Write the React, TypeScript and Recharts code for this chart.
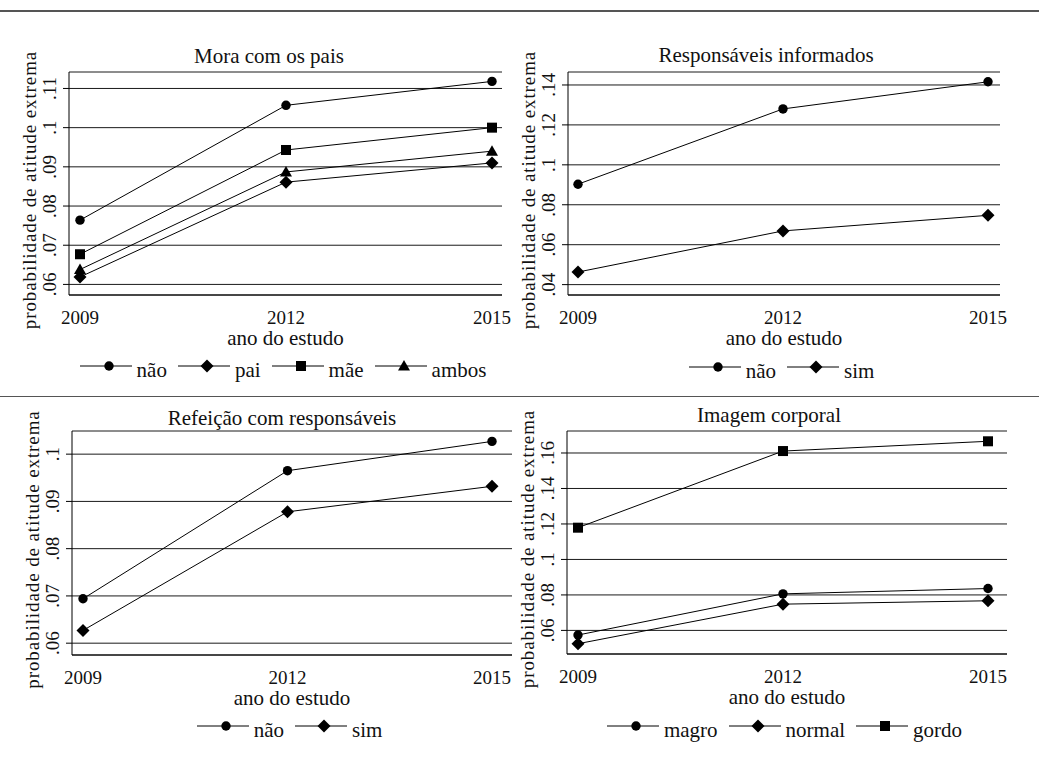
import React from "react"
import { LineChart, Line, XAxis, YAxis, CartesianGrid, Legend } from "recharts"

const years = [2009, 2012, 2015]

// Mora com os pais
const moraNao = [0.0764, 0.1057, 0.1118]
const moraPai = [0.0619, 0.0861, 0.091]
const moraMae = [0.0677, 0.0943, 0.1]
const moraAmbos = [0.0638, 0.0887, 0.094]
const moraTicks = [0.06, 0.07, 0.08, 0.09, 0.1, 0.11]

// Responsáveis informados
const infNao = [0.0903, 0.128, 0.1416]
const infSim = [0.0463, 0.0669, 0.0747]
const infTicks = [0.04, 0.06, 0.08, 0.1, 0.12, 0.14]

// Refeição com responsáveis
const refNao = [0.0694, 0.0965, 0.1027]
const refSim = [0.0627, 0.0878, 0.0932]
const refTicks = [0.06, 0.07, 0.08, 0.09, 0.1]

// Imagem corporal
const imgMagro = [0.0574, 0.0806, 0.0836]
const imgNormal = [0.0525, 0.0748, 0.0767]
const imgGordo = [0.1179, 0.1611, 0.1666]
const imgTicks = [0.06, 0.08, 0.1, 0.12, 0.14, 0.16]

const FONT = '"Liberation Serif", "Times New Roman", serif'
const INK = "#111"
const YW = 40
const XH = 30

type Shape = "circle" | "diamond" | "square" | "triangle"
type Series = { name: string; values: number[]; shape: Shape }
type Panel = {
  title: string
  series: Series[]
  ticks: number[]
  domain: [number, number]
  left: number
  top: number
  w: number
  h: number
  plot: { x0: number; y0: number; x1: number; y1: number }
  pad: { left: number; right: number }
  titleX: number
  titleY: number
  legendTop: number
}

// chart boxes overlap a little so the rotated y labels are never clipped
const panels: Panel[] = [
  {
    title: "Mora com os pais",
    series: [
      { name: "não", values: moraNao, shape: "circle" },
      { name: "pai", values: moraPai, shape: "diamond" },
      { name: "mãe", values: moraMae, shape: "square" },
      { name: "ambos", values: moraAmbos, shape: "triangle" },
    ],
    ticks: moraTicks,
    domain: [0.0573, 0.1142],
    left: 0, top: 0, w: 520, h: 390,
    plot: { x0: 69, y0: 72, x1: 502, y1: 295 },
    pad: { left: 11, right: 10 },
    titleX: 269, titleY: 63,
    legendTop: 360,
  },
  {
    title: "Responsáveis informados",
    series: [
      { name: "não", values: infNao, shape: "circle" },
      { name: "sim", values: infSim, shape: "diamond" },
    ],
    ticks: infTicks,
    domain: [0.0348, 0.1465],
    left: 500, top: 0, w: 539, h: 390,
    plot: { x0: 68, y0: 72, x1: 500, y1: 295 },
    pad: { left: 10, right: 12 },
    titleX: 266, titleY: 62,
    legendTop: 361,
  },
  {
    title: "Refeição com responsáveis",
    series: [
      { name: "não", values: refNao, shape: "circle" },
      { name: "sim", values: refSim, shape: "diamond" },
    ],
    ticks: refTicks,
    domain: [0.0575, 0.1049],
    left: 0, top: 390, w: 520, h: 382,
    plot: { x0: 72, y0: 41, x1: 512, y1: 265 },
    pad: { left: 11, right: 20 },
    titleX: 282, titleY: 35,
    legendTop: 330,
  },
  {
    title: "Imagem corporal",
    series: [
      { name: "magro", values: imgMagro, shape: "circle" },
      { name: "normal", values: imgNormal, shape: "diamond" },
      { name: "gordo", values: imgGordo, shape: "square" },
    ],
    ticks: imgTicks,
    domain: [0.0467, 0.1724],
    left: 500, top: 390, w: 539, h: 382,
    plot: { x0: 67, y0: 41, x1: 507, y1: 264 },
    pad: { left: 11, right: 19 },
    titleX: 269, titleY: 32,
    legendTop: 330,
  },
]

const fmt = (v: number) => String(Number(v.toFixed(2))).replace(/^0/, "")

const Marker = ({ shape, cx, cy }: { shape: Shape; cx: number; cy: number }) => {
  if (shape === "circle") return <circle cx={cx} cy={cy} r={4.7} fill="#000" />
  if (shape === "square") return <rect x={cx - 5} y={cy - 5} width={10} height={10} fill="#000" />
  if (shape === "triangle")
    return <polygon points={`${cx},${cy - 6} ${cx + 6},${cy + 4.5} ${cx - 6},${cy + 4.5}`} fill="#000" />
  return <polygon points={`${cx},${cy - 6.5} ${cx + 6.5},${cy} ${cx},${cy + 6.5} ${cx - 6.5},${cy}`} fill="#000" />
}

const XTick = (props: any) => (
  <text x={props.x} y={props.y + 29} textAnchor="middle" fontSize={19} fill={INK} fontFamily={FONT}>
    {props.payload.value}
  </text>
)

const YTick = (props: any) => {
  const x = props.x - 6.5
  return (
    <text x={x} y={props.y} transform={`rotate(-90 ${x} ${props.y})`} textAnchor="middle" fontSize={19} fill={INK} fontFamily={FONT}>
      {fmt(props.payload.value)}
    </text>
  )
}

const PanelChart = ({ p }: { p: Panel }) => {
  const rows = years.map((year, i) => {
    const row: Record<string, number> = { year }
    p.series.forEach((s, k) => (row["s" + k] = s.values[i]))
    return row
  })
  const { x0, y0, x1, y1 } = p.plot
  const ylx = x0 - 33
  const yly = (y0 + y1) / 2 + 6.5

  const XLabel = () => (
    <text x={(x0 + x1) / 2} y={y1 + 50} textAnchor="middle" fontSize={21} fill={INK} fontFamily={FONT}>
      ano do estudo
    </text>
  )
  const YLabel = () => (
    <text
      x={ylx}
      y={yly}
      transform={`rotate(-90 ${ylx} ${yly})`}
      textAnchor="middle"
      fontSize={19}
      letterSpacing={0.9}
      fill={INK}
      fontFamily={FONT}
    >
      probabilidade de atitude extrema
    </text>
  )

  const renderLegend = (lp: any) => (
    <div style={{ display: "flex", justifyContent: "center", fontFamily: FONT, fontSize: 21, lineHeight: "20px", color: INK }}>
      {(lp.payload || []).map((entry: any) => {
        const s = p.series.find((x) => x.name === entry.value)
        return (
          <div key={entry.value} style={{ display: "flex", alignItems: "center", marginRight: 11 }}>
            <svg width={52} height={16} style={{ position: "relative", top: -4 }}>
              <line x1={0} y1={8} x2={52} y2={8} stroke="#000" strokeWidth={1} />
              <Marker shape={s ? s.shape : "circle"} cx={29} cy={8} />
            </svg>
            <span style={{ marginLeft: 5 }}>{entry.value}</span>
          </div>
        )
      })}
    </div>
  )

  return (
    <div style={{ position: "absolute", left: p.left, top: p.top, width: p.w, height: p.h }}>
      <LineChart
        width={p.w}
        height={p.h}
        data={rows}
        margin={{ top: y0, left: x0 - YW, right: p.w - x1, bottom: p.h - y1 - XH }}
      >
        <CartesianGrid vertical={false} stroke="#1a1a1a" strokeWidth={1} />
        <XAxis
          dataKey="year"
          type="number"
          domain={[2009, 2015]}
          ticks={years}
          padding={p.pad}
          height={XH}
          tickSize={0}
          tickMargin={0}
          tickLine={false}
          axisLine={{ stroke: "#000", strokeWidth: 1 }}
          tick={XTick}
          label={{ content: XLabel }}
        />
        <YAxis
          type="number"
          domain={p.domain}
          ticks={p.ticks}
          allowDataOverflow
          width={YW}
          tickSize={6}
          tickMargin={0}
          tickLine={{ stroke: "#000", strokeWidth: 1 }}
          axisLine={{ stroke: "#000", strokeWidth: 1 }}
          tick={YTick}
          label={{ content: YLabel }}
        />
        {p.series.map((s, k) => (
          <Line
            key={s.name}
            dataKey={"s" + k}
            name={s.name}
            stroke="#000"
            strokeWidth={1}
            activeDot={false}
            isAnimationActive={false}
            dot={(d: any) => <Marker key={s.name + d.index} shape={s.shape} cx={d.cx} cy={d.cy} />}
          />
        ))}
        <Legend
          layout="horizontal"
          verticalAlign="middle"
          align="center"
          itemSorter="dataKey"
          wrapperStyle={{ left: x0 + 3, top: p.legendTop, width: x1 - x0 }}
          content={renderLegend}
        />
      </LineChart>
      <svg width={p.w} height={p.h} style={{ position: "absolute", left: 0, top: 0, pointerEvents: "none" }}>
        <text x={p.titleX} y={p.titleY} textAnchor="middle" fontSize={21} fill={INK} fontFamily={FONT}>
          {p.title}
        </text>
      </svg>
    </div>
  )
}

export default function App() {
  return (
    <div style={{ position: "absolute", left: 0, top: 0, width: 1039, height: 772, background: "#fff", fontFamily: FONT }}>
      <div style={{ position: "absolute", left: 0, top: 10, width: 1039, height: 1.5, background: "#555" }} />
      <div style={{ position: "absolute", left: 0, top: 395.5, width: 1039, height: 1.5, background: "#555" }} />
      {panels.map((p) => (
        <PanelChart key={p.title} p={p} />
      ))}
    </div>
  )
}
